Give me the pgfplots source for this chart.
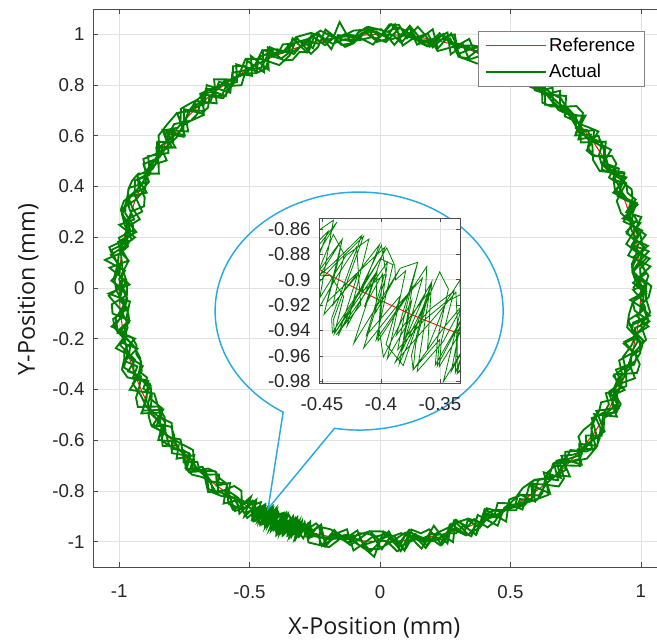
\documentclass[border=0pt]{standalone}
\usepackage{pgfplots}
\pgfplotsset{compat=1.18}
\usepackage{pgfplotstable}
\usepackage{fontspec}
\setmainfont{Liberation Sans}
\newfontfamily\labelfont{Open Sans}
\usetikzlibrary{shapes.callouts}

\definecolor{trace}{RGB}{0,128,0}
\definecolor{cmdred}{RGB}{250,20,20}
\definecolor{bubble}{RGB}{41,171,226}
\definecolor{axgray}{RGB}{75,75,75}
\definecolor{gridgray}{RGB}{226,226,226}
\definecolor{boxgray}{RGB}{130,130,130}

% measured trajectory, polar form: angle (deg), radius (mm); eight laps
\pgfplotstableread[row sep=\\]{
ang rad\\
0 0.97\\ 2 1.00\\ 4 0.97\\ 6 1.00\\ 8 1.04\\ 10 0.98\\ 12 1.01\\ 14 1.00\\ 16 0.99\\ 18 1.00\\
20 1.03\\ 22 1.04\\ 24 1.02\\ 26 1.04\\ 28 0.99\\ 30 0.98\\ 32 0.99\\ 34 1.03\\ 36 1.00\\ 38 1.01\\
40 0.98\\ 42 1.01\\ 44 1.00\\ 46 0.99\\ 48 0.99\\ 50 1.03\\ 52 0.99\\ 54 0.98\\ 56 1.02\\ 58 1.04\\
60 1.00\\ 62 0.96\\ 64 0.98\\ 66 1.03\\ 68 1.03\\ 70 1.00\\ 72 0.97\\ 74 1.04\\ 76 1.02\\ 78 0.97\\
80 1.01\\ 82 1.04\\ 84 0.99\\ 86 1.04\\ 88 1.04\\ 90 0.99\\ 92 1.02\\ 94 1.00\\ 96 0.97\\ 98 0.96\\
100 1.00\\ 102 1.03\\ 104 0.98\\ 106 0.96\\ 108 1.04\\ 110 1.02\\ 112 1.00\\ 114 1.04\\ 116 1.00\\ 118 1.00\\
120 1.00\\ 122 1.04\\ 124 0.98\\ 126 0.99\\ 128 0.96\\ 130 1.02\\ 132 1.03\\ 134 0.97\\ 136 1.01\\ 138 1.00\\
140 0.96\\ 142 1.01\\ 144 0.98\\ 146 1.03\\ 148 1.01\\ 150 0.98\\ 152 0.96\\ 154 1.03\\ 156 1.04\\ 158 1.04\\
160 1.03\\ 162 1.01\\ 164 0.98\\ 166 1.03\\ 168 0.96\\ 170 0.99\\ 172 1.00\\ 174 1.06\\ 176 0.98\\ 178 1.00\\
180 0.99\\ 182 1.00\\ 184 0.98\\ 186 0.97\\ 188 0.97\\ 190 1.02\\ 192 0.96\\ 194 1.01\\ 196 1.02\\ 198 1.04\\
200 1.03\\ 202 0.98\\ 204 0.97\\ 206 1.00\\ 208 1.03\\ 210 0.96\\ 212 1.03\\ 214 1.01\\ 216 1.00\\ 218 0.97\\
220 0.99\\ 222 0.98\\ 224 1.03\\ 226 0.98\\ 228 0.99\\ 230 0.96\\ 232 1.01\\ 234 1.01\\ 236 1.00\\
238 1.02\\ 239 0.96\\ 240 1.04\\ 241 0.99\\ 242 1.03\\ 242.9 0.96\\ 242.6 1.01\\ 243.8 1.04\\ 244 1.00\\ 244.3 0.97\\
245.6 1.01\\ 245.1 1.04\\ 246 0.97\\ 246.8 1.02\\ 247 1.03\\ 247.9 0.96\\ 248.3 0.98\\ 248.1 1.04\\ 249 1.00\\ 249.7 0.97\\
250.2 0.99\\ 250.9 1.03\\ 251 1.00\\ 252 1.03\\ 253 0.98\\ 254 0.98\\ 255 0.99\\
256 0.97\\ 258 1.02\\ 260 0.98\\ 262 1.00\\ 264 0.99\\ 266 1.00\\ 268 1.04\\ 270 1.00\\ 272 0.96\\ 274 1.03\\
276 0.97\\ 278 0.98\\ 280 1.03\\ 282 1.00\\ 284 1.03\\ 286 0.97\\ 288 0.97\\ 290 0.97\\ 292 1.02\\ 294 1.00\\
296 1.00\\ 298 0.96\\ 300 0.98\\ 302 1.03\\ 304 1.00\\ 306 0.97\\ 308 0.96\\ 310 0.98\\ 312 1.02\\ 314 0.96\\
316 0.97\\ 318 1.04\\ 320 0.99\\ 322 1.03\\ 324 1.00\\ 326 0.98\\ 328 0.97\\ 330 0.97\\ 332 0.96\\ 334 1.00\\
336 1.00\\ 338 1.00\\ 340 1.04\\ 342 1.01\\ 344 1.00\\ 346 1.00\\ 348 1.01\\ 350 0.98\\ 352 0.98\\ 354 1.04\\
356 1.00\\ 358 1.03\\
0.4 1.04\\ 2.4 1.00\\ 4.4 1.00\\ 6.4 1.04\\ 8.4 0.99\\ 10.4 0.96\\ 12.4 0.99\\ 14.4 1.03\\ 16.4 0.97\\ 18.4 1.04\\
20.4 1.01\\ 22.4 1.00\\ 24.4 1.00\\ 26.4 0.98\\ 28.4 1.03\\ 30.4 1.03\\ 32.4 0.97\\ 34.4 0.96\\ 36.4 1.04\\ 38.4 1.02\\
40.4 1.00\\ 42.4 1.01\\ 44.4 1.01\\ 46.4 1.00\\ 48.4 1.04\\ 50.4 0.99\\ 52.4 0.99\\ 54.4 1.00\\ 56.4 1.00\\ 58.4 1.01\\
60.4 0.97\\ 62.4 0.98\\ 64.4 1.03\\ 66.4 1.00\\ 68.4 1.02\\ 70.4 1.00\\ 72.4 1.01\\ 74.4 1.00\\ 76.4 1.03\\ 78.4 0.98\\
80.4 0.99\\ 82.4 0.99\\ 84.4 1.02\\ 86.4 1.03\\ 88.4 1.01\\ 90.4 1.02\\ 92.4 1.03\\ 94.4 0.99\\ 96.4 0.97\\ 98.4 1.06\\
100.4 1.00\\ 102.4 0.98\\ 104.4 1.02\\ 106.4 0.97\\ 108.4 0.98\\ 110.4 0.96\\ 112.4 0.97\\ 114.4 1.04\\ 116.4 0.96\\ 118.4 1.04\\
120.4 0.97\\ 122.4 1.00\\ 124.4 1.00\\ 126.4 1.01\\ 128.4 1.00\\ 130.4 1.03\\ 132.4 1.00\\ 134.4 1.01\\ 136.4 1.01\\ 138.4 1.04\\
140.4 0.98\\ 142.4 0.99\\ 144.4 1.00\\ 146.4 1.01\\ 148.4 0.96\\ 150.4 0.99\\ 152.4 1.00\\ 154.4 1.03\\ 156.4 1.01\\ 158.4 0.97\\
160.4 0.96\\ 162.4 1.00\\ 164.4 1.00\\ 166.4 1.00\\ 168.4 0.99\\ 170.4 0.98\\ 172.4 1.01\\ 174.4 1.01\\ 176.4 1.00\\ 178.4 1.03\\
180.4 0.98\\ 182.4 0.97\\ 184.4 0.99\\ 186.4 0.99\\ 188.4 1.04\\ 190.4 0.99\\ 192.4 1.01\\ 194.4 0.96\\ 196.4 1.02\\ 198.4 0.98\\
200.4 1.01\\ 202.4 0.96\\ 204.4 0.98\\ 206.4 1.00\\ 208.4 1.04\\ 210.4 0.97\\ 212.4 1.00\\ 214.4 0.97\\ 216.4 0.98\\ 218.4 1.02\\
220.4 0.99\\ 222.4 1.02\\ 224.4 0.98\\ 226.4 1.00\\ 228.4 1.00\\ 230.4 1.03\\ 232.4 1.02\\ 234.4 0.96\\ 236.4 0.96\\
238.4 1.01\\ 239.4 1.01\\ 240.4 0.96\\ 241.4 1.01\\ 242.4 0.99\\ 243.2 1.03\\ 243.0 0.97\\ 243.9 0.98\\ 244.4 1.02\\ 245.3 0.96\\
245.4 1.00\\ 246.1 0.98\\ 246.4 1.03\\ 247.2 0.99\\ 247.4 1.03\\ 248.5 1.04\\ 248.4 0.97\\ 249.3 1.02\\ 249.4 0.98\\ 250.6 0.96\\
250.4 1.00\\ 251.0 1.03\\ 251.4 1.02\\ 252.4 1.03\\ 253.4 0.97\\ 254.4 1.00\\ 255.4 0.98\\
256.4 0.96\\ 258.4 1.04\\ 260.4 0.98\\ 262.4 0.96\\ 264.4 1.04\\ 266.4 1.01\\ 268.4 0.98\\ 270.4 1.03\\ 272.4 0.98\\ 274.4 1.04\\
276.4 0.98\\ 278.4 1.00\\ 280.4 1.00\\ 282.4 0.96\\ 284.4 1.04\\ 286.4 0.97\\ 288.4 1.02\\ 290.4 0.97\\ 292.4 1.00\\ 294.4 0.99\\
296.4 1.01\\ 298.4 1.00\\ 300.4 0.99\\ 302.4 1.01\\ 304.4 1.02\\ 306.4 1.03\\ 308.4 1.04\\ 310.4 0.98\\ 312.4 1.00\\ 314.4 1.04\\
316.4 0.96\\ 318.4 0.99\\ 320.4 1.01\\ 322.4 0.96\\ 324.4 0.96\\ 326.4 0.97\\ 328.4 0.97\\ 330.4 0.99\\ 332.4 0.99\\ 334.4 0.96\\
336.4 1.00\\ 338.4 0.99\\ 340.4 0.96\\ 342.4 1.00\\ 344.4 1.00\\ 346.4 1.03\\ 348.4 1.03\\ 350.4 0.98\\ 352.4 0.96\\ 354.4 1.00\\
356.4 1.01\\ 358.4 1.01\\
0.8 1.00\\ 2.8 0.98\\ 4.8 0.97\\ 6.8 0.99\\ 8.8 1.03\\ 10.8 1.00\\ 12.8 0.97\\ 14.8 1.00\\ 16.8 1.01\\ 18.8 1.04\\
20.8 1.00\\ 22.8 0.97\\ 24.8 1.04\\ 26.8 1.00\\ 28.8 0.97\\ 30.8 1.00\\ 32.8 0.97\\ 34.8 0.97\\ 36.8 1.01\\ 38.8 0.96\\
40.8 1.04\\ 42.8 1.00\\ 44.8 0.99\\ 46.8 0.99\\ 48.8 0.96\\ 50.8 1.00\\ 52.8 1.02\\ 54.8 0.98\\ 56.8 1.02\\ 58.8 0.96\\
60.8 0.99\\ 62.8 1.01\\ 64.8 1.00\\ 66.8 1.02\\ 68.8 1.00\\ 70.8 1.04\\ 72.8 1.00\\ 74.8 1.04\\ 76.8 0.97\\ 78.8 1.04\\
80.8 1.00\\ 82.8 0.99\\ 84.8 0.96\\ 86.8 1.04\\ 88.8 0.98\\ 90.8 0.97\\ 92.8 1.03\\ 94.8 1.01\\ 96.8 0.97\\ 98.8 0.97\\
100.8 1.02\\ 102.8 0.99\\ 104.8 1.03\\ 106.8 0.97\\ 108.8 1.04\\ 110.8 0.99\\ 112.8 0.98\\ 114.8 1.01\\ 116.8 0.97\\ 118.8 0.97\\
120.8 1.02\\ 122.8 1.04\\ 124.8 0.99\\ 126.8 0.97\\ 128.8 0.96\\ 130.8 1.00\\ 132.8 0.97\\ 134.8 0.97\\ 136.8 1.03\\ 138.8 1.00\\
140.8 1.00\\ 142.8 1.03\\ 144.8 0.96\\ 146.8 1.02\\ 148.8 1.00\\ 150.8 1.00\\ 152.8 1.01\\ 154.8 0.98\\ 156.8 0.99\\ 158.8 1.02\\
160.8 1.04\\ 162.8 1.04\\ 164.8 1.01\\ 166.8 0.98\\ 168.8 1.02\\ 170.8 1.00\\ 172.8 1.04\\ 174.8 1.00\\ 176.8 1.01\\ 178.8 1.02\\
180.8 0.99\\ 182.8 1.00\\ 184.8 0.97\\ 186.8 1.03\\ 188.8 1.03\\ 190.8 1.00\\ 192.8 1.02\\ 194.8 1.00\\ 196.8 0.98\\ 198.8 1.02\\
200.8 0.98\\ 202.8 1.00\\ 204.8 1.03\\ 206.8 1.04\\ 208.8 0.97\\ 210.8 0.98\\ 212.8 0.98\\ 214.8 1.02\\ 216.8 1.04\\ 218.8 0.99\\
220.8 1.03\\ 222.8 0.97\\ 224.8 1.03\\ 226.8 0.99\\ 228.8 0.96\\ 230.8 0.97\\ 232.8 0.97\\ 234.8 1.04\\ 236.8 1.00\\
238.8 1.04\\ 239.8 0.97\\ 240.8 0.98\\ 241.8 1.04\\ 242.8 1.03\\ 243.5 0.97\\ 243.8 0.99\\ 244.1 1.02\\ 244.8 0.99\\ 245.6 0.96\\
245.8 1.01\\ 246.0 0.98\\ 246.8 1.02\\ 247.5 1.04\\ 247.8 0.99\\ 248.1 1.02\\ 248.8 0.99\\ 249.6 0.97\\ 249.8 1.01\\ 250.1 1.03\\
250.8 0.98\\ 251.5 0.99\\ 251.8 1.00\\ 252.8 1.00\\ 253.8 0.96\\ 254.8 1.01\\ 255.8 1.00\\
256.8 1.01\\ 258.8 1.01\\ 260.8 1.00\\ 262.8 0.99\\ 264.8 0.96\\ 266.8 1.03\\ 268.8 1.06\\ 270.8 0.96\\ 272.8 0.98\\ 274.8 0.97\\
276.8 0.99\\ 278.8 1.04\\ 280.8 1.00\\ 282.8 1.04\\ 284.8 1.00\\ 286.8 1.01\\ 288.8 0.99\\ 290.8 1.04\\ 292.8 1.00\\ 294.8 0.98\\
296.8 0.98\\ 298.8 1.00\\ 300.8 1.02\\ 302.8 0.99\\ 304.8 1.02\\ 306.8 0.97\\ 308.8 1.04\\ 310.8 0.96\\ 312.8 1.02\\ 314.8 0.96\\
316.8 0.98\\ 318.8 0.97\\ 320.8 1.02\\ 322.8 1.04\\ 324.8 1.03\\ 326.8 1.01\\ 328.8 0.96\\ 330.8 1.04\\ 332.8 1.00\\ 334.8 0.99\\
336.8 1.02\\ 338.8 0.96\\ 340.8 0.98\\ 342.8 1.02\\ 344.8 1.02\\ 346.8 0.96\\ 348.8 1.00\\ 350.8 0.99\\ 352.8 1.04\\ 354.8 0.98\\
356.8 0.97\\ 358.8 1.02\\
1.2 0.97\\ 3.2 1.02\\ 5.2 1.01\\ 7.2 0.98\\ 9.2 1.04\\ 11.2 0.99\\ 13.2 0.97\\ 15.2 1.02\\ 17.2 1.01\\ 19.2 1.02\\
21.2 1.00\\ 23.2 0.98\\ 25.2 0.99\\ 27.2 1.03\\ 29.2 1.00\\ 31.2 1.01\\ 33.2 1.02\\ 35.2 1.00\\ 37.2 1.03\\ 39.2 0.97\\
41.2 1.03\\ 43.2 1.00\\ 45.2 1.01\\ 47.2 1.02\\ 49.2 1.01\\ 51.2 1.01\\ 53.2 1.04\\ 55.2 1.00\\ 57.2 0.96\\ 59.2 1.00\\
61.2 0.97\\ 63.2 0.99\\ 65.2 0.98\\ 67.2 0.96\\ 69.2 0.96\\ 71.2 0.96\\ 73.2 1.00\\ 75.2 1.01\\ 77.2 1.03\\ 79.2 0.97\\
81.2 0.98\\ 83.2 1.02\\ 85.2 0.97\\ 87.2 1.00\\ 89.2 1.00\\ 91.2 0.98\\ 93.2 1.01\\ 95.2 0.99\\ 97.2 1.00\\ 99.2 1.01\\
101.2 0.96\\ 103.2 1.03\\ 105.2 0.98\\ 107.2 1.02\\ 109.2 1.02\\ 111.2 1.03\\ 113.2 1.00\\ 115.2 1.02\\ 117.2 1.02\\ 119.2 0.97\\
121.2 0.99\\ 123.2 1.00\\ 125.2 0.98\\ 127.2 1.02\\ 129.2 1.00\\ 131.2 1.02\\ 133.2 1.02\\ 135.2 1.03\\ 137.2 1.04\\ 139.2 1.01\\
141.2 0.96\\ 143.2 1.04\\ 145.2 0.97\\ 147.2 1.02\\ 149.2 0.99\\ 151.2 1.01\\ 153.2 0.99\\ 155.2 1.02\\ 157.2 0.97\\ 159.2 1.02\\
161.2 1.03\\ 163.2 1.02\\ 165.2 0.98\\ 167.2 0.97\\ 169.2 1.00\\ 171.2 1.05\\ 173.2 1.03\\ 175.2 1.00\\ 177.2 1.00\\ 179.2 0.96\\
181.2 1.04\\ 183.2 0.96\\ 185.2 0.97\\ 187.2 0.98\\ 189.2 0.98\\ 191.2 1.00\\ 193.2 1.04\\ 195.2 1.00\\ 197.2 0.99\\ 199.2 1.00\\
201.2 0.99\\ 203.2 0.96\\ 205.2 0.97\\ 207.2 1.00\\ 209.2 1.01\\ 211.2 1.00\\ 213.2 1.00\\ 215.2 1.04\\ 217.2 1.00\\ 219.2 1.03\\
221.2 1.00\\ 223.2 0.99\\ 225.2 1.02\\ 227.2 0.97\\ 229.2 0.96\\ 231.2 1.00\\ 233.2 0.96\\ 235.2 1.02\\ 237.2 1.04\\
239.2 0.98\\ 240.2 0.98\\ 241.2 1.02\\ 242.2 1.04\\ 243.2 1.01\\ 243.5 0.97\\ 244.2 1.03\\ 244.9 0.99\\ 245.2 1.04\\ 245.4 0.96\\
246.2 0.98\\ 246.5 1.04\\ 247.2 1.00\\ 247.9 0.97\\ 248.2 1.03\\ 248.5 0.98\\ 249.2 1.04\\ 249.9 1.01\\ 250.2 0.98\\ 250.5 1.04\\
251.2 0.99\\ 251.9 0.97\\ 252.2 1.00\\ 253.2 1.00\\ 254.2 0.98\\ 255.2 0.96\\ 256.2 0.97\\
257.2 1.04\\ 259.2 1.04\\ 261.2 1.00\\ 263.2 1.01\\ 265.2 0.97\\ 267.2 0.97\\ 269.2 0.98\\ 271.2 0.97\\ 273.2 0.98\\ 275.2 1.04\\
277.2 0.96\\ 279.2 0.98\\ 281.2 0.97\\ 283.2 1.04\\ 285.2 1.01\\ 287.2 0.96\\ 289.2 1.03\\ 291.2 1.01\\ 293.2 1.00\\ 295.2 0.96\\
297.2 0.99\\ 299.2 1.00\\ 301.2 1.00\\ 303.2 0.97\\ 305.2 1.03\\ 307.2 0.97\\ 309.2 1.00\\ 311.2 1.04\\ 313.2 1.03\\ 315.2 0.97\\
317.2 0.99\\ 319.2 1.01\\ 321.2 0.98\\ 323.2 1.04\\ 325.2 1.02\\ 327.2 1.02\\ 329.2 1.00\\ 331.2 1.02\\ 333.2 1.02\\ 335.2 0.97\\
337.2 0.99\\ 339.2 0.96\\ 341.2 1.04\\ 343.2 1.04\\ 345.2 1.01\\ 347.2 0.96\\ 349.2 1.00\\ 351.2 0.97\\ 353.2 1.03\\ 355.2 1.02\\
357.2 0.96\\ 359.2 1.02\\
1.6 0.98\\ 3.6 0.97\\ 5.6 0.97\\ 7.6 0.99\\ 9.6 1.00\\ 11.6 1.04\\ 13.6 1.01\\ 15.6 1.04\\ 17.6 0.99\\ 19.6 1.04\\
21.6 1.02\\ 23.6 1.03\\ 25.6 0.99\\ 27.6 1.02\\ 29.6 0.98\\ 31.6 1.04\\ 33.6 1.02\\ 35.6 1.03\\ 37.6 0.96\\ 39.6 1.00\\
41.6 1.04\\ 43.6 1.04\\ 45.6 1.00\\ 47.6 0.97\\ 49.6 0.96\\ 51.6 1.00\\ 53.6 1.04\\ 55.6 1.02\\ 57.6 0.99\\ 59.6 0.97\\
61.6 1.02\\ 63.6 0.99\\ 65.6 0.98\\ 67.6 1.03\\ 69.6 0.97\\ 71.6 1.01\\ 73.6 0.96\\ 75.6 1.04\\ 77.6 1.01\\ 79.6 0.99\\
81.6 0.97\\ 83.6 1.03\\ 85.6 1.00\\ 87.6 1.04\\ 89.6 1.00\\ 91.6 0.96\\ 93.6 0.98\\ 95.6 1.00\\ 97.6 1.01\\ 99.6 1.00\\
101.6 1.04\\ 103.6 0.99\\ 105.6 1.01\\ 107.6 1.00\\ 109.6 0.99\\ 111.6 1.00\\ 113.6 1.01\\ 115.6 1.04\\ 117.6 0.96\\ 119.6 1.03\\
121.6 0.99\\ 123.6 0.96\\ 125.6 0.98\\ 127.6 1.01\\ 129.6 1.00\\ 131.6 0.98\\ 133.6 1.00\\ 135.6 0.98\\ 137.6 0.98\\ 139.6 0.99\\
141.6 0.96\\ 143.6 1.03\\ 145.6 0.98\\ 147.6 1.00\\ 149.6 0.99\\ 151.6 0.99\\ 153.6 1.00\\ 155.6 1.00\\ 157.6 1.01\\ 159.6 1.03\\
161.6 1.00\\ 163.6 0.96\\ 165.6 0.99\\ 167.6 1.00\\ 169.6 0.98\\ 171.6 1.01\\ 173.6 0.97\\ 175.6 1.04\\ 177.6 0.99\\ 179.6 0.97\\
181.6 0.97\\ 183.6 1.03\\ 185.6 1.03\\ 187.6 0.97\\ 189.6 1.02\\ 191.6 0.97\\ 193.6 0.96\\ 195.6 0.97\\ 197.6 0.96\\ 199.6 0.98\\
201.6 0.96\\ 203.6 0.99\\ 205.6 0.97\\ 207.6 0.99\\ 209.6 1.02\\ 211.6 1.03\\ 213.6 0.99\\ 215.6 1.03\\ 217.6 1.02\\ 219.6 1.00\\
221.6 0.98\\ 223.6 1.03\\ 225.6 1.03\\ 227.6 1.01\\ 229.6 1.00\\ 231.6 1.03\\ 233.6 1.02\\ 235.6 1.00\\ 237.6 0.99\\
239.6 0.99\\ 240.6 0.98\\ 241.6 0.96\\ 242.6 1.03\\ 243.6 0.99\\ 244.3 0.96\\ 244.6 1.03\\ 244.9 1.04\\ 245.6 0.97\\ 246.3 0.97\\
246.6 1.00\\ 246.9 1.03\\ 247.6 0.98\\ 248.3 1.04\\ 248.6 0.96\\ 249.3 0.97\\ 249.6 1.01\\ 249.9 1.03\\ 250.6 0.97\\ 251.3 0.98\\
251.6 1.02\\ 251.9 1.04\\ 252.6 0.97\\ 253.6 1.02\\ 254.6 1.02\\ 255.6 1.01\\ 256.6 1.01\\
257.6 1.04\\ 259.6 0.97\\ 261.6 1.00\\ 263.6 1.02\\ 265.6 0.99\\ 267.6 0.96\\ 269.6 0.99\\ 271.6 1.00\\ 273.6 1.04\\ 275.6 1.03\\
277.6 0.98\\ 279.6 1.00\\ 281.6 0.99\\ 283.6 1.00\\ 285.6 1.04\\ 287.6 0.96\\ 289.6 1.00\\ 291.6 0.98\\ 293.6 1.03\\ 295.6 1.02\\
297.6 1.00\\ 299.6 1.00\\ 301.6 1.00\\ 303.6 1.01\\ 305.6 1.03\\ 307.6 1.02\\ 309.6 0.99\\ 311.6 0.97\\ 313.6 0.97\\ 315.6 1.00\\
317.6 1.04\\ 319.6 1.00\\ 321.6 1.01\\ 323.6 0.98\\ 325.6 1.03\\ 327.6 1.01\\ 329.6 0.99\\ 331.6 1.03\\ 333.6 1.03\\ 335.6 0.98\\
337.6 0.99\\ 339.6 1.00\\ 341.6 0.99\\ 343.6 1.02\\ 345.6 1.03\\ 347.6 1.02\\ 349.6 1.00\\ 351.6 1.04\\ 353.6 0.99\\ 355.6 1.02\\
357.6 1.00\\ 359.6 0.97\\
0.7 1.02\\ 3.7 0.97\\ 6.7 1.03\\ 9.7 0.98\\ 12.7 1.03\\ 15.7 0.97\\ 18.7 1.03\\ 21.7 0.98\\ 24.7 1.03\\ 27.7 1.00\\
30.7 1.00\\ 33.7 1.04\\ 36.7 0.96\\ 39.7 1.00\\ 42.7 1.00\\ 45.7 0.98\\ 48.7 0.99\\ 51.7 1.00\\ 54.7 0.99\\ 57.7 1.01\\
60.7 0.96\\ 63.7 0.98\\ 66.7 1.03\\ 69.7 1.02\\ 72.7 1.00\\ 75.7 1.02\\ 78.7 0.97\\ 81.7 0.99\\ 84.7 1.00\\ 87.7 0.98\\
90.7 1.01\\ 93.7 1.01\\ 96.7 0.98\\ 99.7 1.00\\ 102.7 1.04\\ 105.7 1.02\\ 108.7 1.02\\ 111.7 1.00\\ 114.7 1.02\\ 117.7 0.98\\
120.7 1.00\\ 123.7 1.02\\ 126.7 0.96\\ 129.7 1.04\\ 132.7 0.99\\ 135.7 1.01\\ 138.7 1.04\\ 141.7 1.04\\ 144.7 1.04\\ 147.7 1.00\\
150.7 1.04\\ 153.7 1.00\\ 156.7 0.98\\ 159.7 1.00\\ 162.7 1.04\\ 165.7 1.01\\ 168.7 0.97\\ 171.7 1.04\\ 174.7 1.01\\ 177.7 1.02\\
180.7 1.01\\ 183.7 0.98\\ 186.7 1.02\\ 189.7 1.02\\ 192.7 0.98\\ 195.7 1.00\\ 198.7 0.96\\ 201.7 1.02\\ 204.7 1.01\\ 207.7 1.01\\
210.7 0.99\\ 213.7 0.96\\ 216.7 0.99\\ 219.7 1.00\\ 222.7 0.99\\ 225.7 1.00\\ 228.7 1.00\\ 231.7 1.02\\ 234.7 1.00\\ 237.7 1.04\\
239.7 1.00\\ 240.7 1.00\\ 241.7 1.02\\ 242.7 0.97\\ 243.0 1.03\\ 243.7 0.99\\ 244.4 0.96\\ 244.7 1.03\\ 245.0 1.04\\ 245.7 0.98\\
246.4 1.01\\ 246.7 0.97\\ 247.4 0.96\\ 247.7 1.02\\ 248.4 0.98\\ 248.7 1.03\\ 249.0 1.04\\ 249.7 1.00\\ 250.4 0.97\\ 250.7 0.98\\
251.0 1.03\\ 251.7 1.00\\ 252.7 0.97\\ 253.7 1.01\\
256.7 1.01\\ 259.7 1.00\\ 262.7 0.98\\ 265.7 1.02\\ 268.7 1.00\\ 271.7 0.98\\ 274.7 1.02\\ 277.7 1.00\\ 280.7 1.01\\ 283.7 1.01\\
286.7 0.99\\ 289.7 1.04\\ 292.7 0.97\\ 295.7 1.04\\ 298.7 0.99\\ 301.7 0.98\\ 304.7 0.96\\ 307.7 0.96\\ 310.7 0.99\\ 313.7 0.96\\
316.7 1.00\\ 319.7 1.04\\ 322.7 1.04\\ 325.7 0.98\\ 328.7 0.97\\ 331.7 1.03\\ 334.7 0.97\\ 337.7 1.02\\ 340.7 1.00\\ 343.7 0.97\\
346.7 0.99\\ 349.7 1.00\\ 352.7 1.04\\ 355.7 1.01\\ 358.7 1.01\\
1.7 0.98\\ 4.7 1.04\\ 7.7 0.96\\ 10.7 1.00\\ 13.7 0.99\\ 16.7 1.00\\ 19.7 1.02\\ 22.7 0.98\\ 25.7 1.04\\ 28.7 0.96\\
31.7 0.96\\ 34.7 0.99\\ 37.7 0.99\\ 40.7 1.00\\ 43.7 0.98\\ 46.7 1.04\\ 49.7 1.00\\ 52.7 0.98\\ 55.7 1.01\\ 58.7 0.96\\
61.7 1.00\\ 64.7 1.04\\ 67.7 1.00\\ 70.7 1.01\\ 73.7 0.99\\ 76.7 0.96\\ 79.7 1.02\\ 82.7 0.99\\ 85.7 1.03\\ 88.7 0.97\\
91.7 0.99\\ 94.7 0.98\\ 97.7 0.99\\ 100.7 0.98\\ 103.7 1.03\\ 106.7 1.01\\ 109.7 0.98\\ 112.7 1.02\\ 115.7 1.04\\ 118.7 1.00\\
121.7 0.99\\ 124.7 1.00\\ 127.7 1.04\\ 130.7 0.96\\ 133.7 1.02\\ 136.7 1.01\\ 139.7 0.99\\ 142.7 0.98\\ 145.7 0.99\\ 148.7 0.99\\
151.7 1.03\\ 154.7 0.98\\ 157.7 1.04\\ 160.7 1.03\\ 163.7 1.03\\ 166.7 0.96\\ 169.7 1.02\\ 172.7 1.00\\ 175.7 0.99\\ 178.7 0.97\\
181.7 1.04\\ 184.7 1.00\\ 187.7 0.98\\ 190.7 1.00\\ 193.7 0.97\\ 196.7 0.96\\ 199.7 0.97\\ 202.7 1.04\\ 205.7 0.96\\ 208.7 0.97\\
211.7 0.97\\ 214.7 1.00\\ 217.7 1.02\\ 220.7 0.99\\ 223.7 1.03\\ 226.7 0.99\\ 229.7 1.00\\ 232.7 0.97\\ 235.7 1.03\\ 238.7 1.02\\
240.7 1.04\\ 241.7 0.99\\ 242.7 0.96\\ 243.7 1.02\\ 244.0 0.98\\ 244.7 0.96\\ 245.4 1.03\\ 245.7 0.98\\ 246.0 1.04\\ 246.7 0.97\\
247.4 0.96\\ 247.7 1.00\\ 248.0 1.03\\ 248.7 1.00\\ 249.4 0.98\\ 249.7 0.96\\ 250.4 0.99\\ 250.7 1.03\\ 251.4 0.97\\ 251.7 1.04\\
252.0 1.02\\ 252.7 0.97\\ 253.7 1.00\\ 254.7 1.04\\
257.7 1.04\\ 260.7 0.99\\ 263.7 1.00\\ 266.7 1.03\\ 269.7 1.03\\ 272.7 1.00\\ 275.7 0.97\\ 278.7 1.01\\ 281.7 1.02\\ 284.7 1.00\\
287.7 0.96\\ 290.7 1.04\\ 293.7 0.98\\ 296.7 1.00\\ 299.7 1.00\\ 302.7 1.02\\ 305.7 1.01\\ 308.7 0.97\\ 311.7 1.00\\ 314.7 1.01\\
317.7 0.96\\ 320.7 1.01\\ 323.7 1.01\\ 326.7 1.03\\ 329.7 0.96\\ 332.7 1.03\\ 335.7 0.98\\ 338.7 0.98\\ 341.7 1.01\\ 344.7 1.00\\
347.7 1.03\\ 350.7 0.96\\ 353.7 0.96\\ 356.7 0.97\\ 359.7 1.01\\
2.7 1.03\\ 5.7 1.00\\ 8.7 1.02\\ 11.7 1.02\\ 14.7 1.00\\ 17.7 0.97\\ 20.7 0.97\\ 23.7 1.03\\ 26.7 1.00\\ 29.7 0.99\\
32.7 1.02\\ 35.7 1.00\\ 38.7 0.98\\ 41.7 0.99\\ 44.7 1.00\\ 47.7 1.00\\ 50.7 1.00\\ 53.7 1.00\\ 56.7 0.98\\ 59.7 1.00\\
62.7 0.99\\ 65.7 1.02\\ 68.7 0.97\\ 71.7 0.96\\ 74.7 1.02\\ 77.7 1.00\\ 80.7 0.99\\ 83.7 1.04\\ 86.7 0.96\\ 89.7 1.02\\
92.7 1.02\\ 95.7 1.02\\ 98.7 1.00\\ 101.7 1.00\\ 104.7 1.04\\ 107.7 1.04\\ 110.7 0.98\\ 113.7 0.96\\ 116.7 1.01\\ 119.7 1.04\\
122.7 1.00\\ 125.7 1.00\\ 128.7 0.97\\ 131.7 1.02\\ 134.7 0.96\\ 137.7 0.98\\ 140.7 1.02\\ 143.7 1.01\\ 146.7 0.97\\ 149.7 1.03\\
152.7 0.99\\ 155.7 1.03\\ 158.7 1.01\\ 161.7 0.96\\ 164.7 1.01\\ 167.7 0.98\\ 170.7 1.01\\ 173.7 0.97\\ 176.7 0.99\\ 179.7 0.99\\
182.7 0.97\\ 185.7 0.99\\ 188.7 1.03\\ 191.7 1.00\\ 194.7 1.00\\ 197.7 1.03\\ 200.7 0.99\\ 203.7 0.96\\ 206.7 0.98\\ 209.7 0.96\\
212.7 1.02\\ 215.7 1.00\\ 218.7 0.98\\ 221.7 0.96\\ 224.7 1.00\\ 227.7 1.00\\ 230.7 1.04\\ 233.7 0.99\\ 236.7 0.99\\ 239.7 1.03\\
241.7 0.98\\ 242.7 1.01\\ 243.7 1.00\\ 244.7 1.01\\ 245.0 1.04\\ 245.7 0.96\\ 246.4 0.97\\ 246.7 0.98\\ 247.0 0.97\\ 247.7 1.04\\
248.4 0.97\\ 248.7 1.02\\ 249.0 1.04\\ 249.7 1.01\\ 250.0 1.03\\ 250.7 0.96\\ 251.4 0.98\\ 251.7 1.01\\ 252.0 0.97\\ 252.7 1.02\\
253.4 1.03\\ 253.7 0.99\\ 254.7 1.02\\ 255.7 0.97\\
258.7 0.97\\ 261.7 0.99\\ 264.7 0.98\\ 267.7 0.96\\ 270.7 0.96\\ 273.7 1.02\\ 276.7 0.96\\ 279.7 1.04\\ 282.7 0.99\\ 285.7 0.98\\
288.7 1.03\\ 291.7 1.02\\ 294.7 0.96\\ 297.7 1.04\\ 300.7 0.97\\ 303.7 0.98\\ 306.7 1.02\\ 309.7 1.00\\ 312.7 1.00\\ 315.7 0.99\\
318.7 1.02\\ 321.7 1.00\\ 324.7 1.02\\ 327.7 0.96\\ 330.7 1.00\\ 333.7 1.02\\ 336.7 0.98\\ 339.7 0.99\\ 342.7 0.96\\ 345.7 1.01\\
348.7 1.04\\ 351.7 1.01\\ 354.7 1.04\\ 357.7 1.02\\ 360.7 1.02\\
}\actual

% commanded circle of radius 1 mm, polar form
\pgfplotstableread[row sep=\\]{
ang rad\\
0 1\\ 5 1\\ 10 1\\ 15 1\\ 20 1\\ 25 1\\ 30 1\\ 35 1\\ 40 1\\ 45 1\\ 50 1\\ 55 1\\
60 1\\ 65 1\\ 70 1\\ 75 1\\ 80 1\\ 85 1\\ 90 1\\ 95 1\\ 100 1\\ 105 1\\ 110 1\\ 115 1\\
120 1\\ 125 1\\ 130 1\\ 135 1\\ 140 1\\ 145 1\\ 150 1\\ 155 1\\ 160 1\\ 165 1\\ 170 1\\ 175 1\\
180 1\\ 185 1\\ 190 1\\ 195 1\\ 200 1\\ 205 1\\ 210 1\\ 215 1\\ 220 1\\ 225 1\\ 230 1\\ 235 1\\
240 1\\ 242 1\\ 244 1\\ 246 1\\ 248 1\\ 250 1\\ 252 1\\ 255 1\\ 260 1\\ 265 1\\ 270 1\\ 275 1\\
280 1\\ 285 1\\ 290 1\\ 295 1\\ 300 1\\ 305 1\\ 310 1\\ 315 1\\ 320 1\\ 325 1\\ 330 1\\ 335 1\\
340 1\\ 345 1\\ 350 1\\ 355 1\\ 360 1\\
}\reference

\pgfplotsset{
  matlab/.style={
    scale only axis,
    axis line style={axgray, line width=0.6pt},
    tick style={axgray, line width=0.6pt},
    tick align=inside,
    major tick length=4pt,
    grid=major,
    major grid style={gridgray, line width=0.5pt},
    tick label style={font=\fontsize{14}{16}\selectfont, text=black!85},
    xticklabel style={yshift=-7pt},
    yticklabel style={xshift=-2.8pt},
    /pgf/number format/assume math mode=true,
    /pgf/number format/fixed,
  },
}

\begin{document}
\begin{tikzpicture}
\path[use as bounding box] (-69.75pt,-55.5pt) rectangle (423pt,425.25pt);

\begin{axis}[
  matlab,
  at={(0pt,0pt)}, anchor=south west,
  width=430.5pt, height=418.5pt,
  xmin=-1.1, xmax=1.1, ymin=-1.1, ymax=1.1,
  xtick={-1,-0.5,0,0.5,1},
  ytick={-1,-0.8,-0.6,-0.4,-0.2,0,0.2,0.4,0.6,0.8,1},
  xticklabel style={yshift=-3pt},
  xlabel={X-Position (mm)},
  ylabel={Y-Position (mm)},
  xlabel style={font=\labelfont\fontsize{17.5}{20}\selectfont, text=black!90,
    at={(axis description cs:0.49,-0.109)}, anchor=center},
  ylabel style={font=\labelfont\fontsize{17.5}{20}\selectfont, text=black!90,
    at={(axis description cs:-0.113,0.497)}, anchor=center},
  legend style={at={(axis description cs:0.9617,0.9606)}, anchor=north east,
    draw=boxgray, fill=white, line width=0.6pt,
    font=\fontsize{14}{16}\selectfont,
    cells={anchor=west}, inner xsep=5pt, inner ysep=3pt, row sep=4pt},
  legend image code/.code={\draw[#1] (0pt,0pt) -- (45pt,0pt);},
]
\addplot[draw=cmdred, line width=0.8pt, data cs=polar, forget plot]
  table[x=ang, y=rad] {\reference};
\addplot[draw=trace, line width=1.4pt, data cs=polar, forget plot]
  table[x=ang, y=rad] {\actual};
\addlegendimage{draw=cmdred, color=cmdred, line width=1pt}
\addlegendentry{Reference}
\addlegendimage{draw=trace, color=trace, line width=0.9pt}
\addlegendentry{Actual}
\coordinate (tip) at (axis cs:-0.429,-0.870);
\coordinate (bub) at (axis cs:-0.080,-0.091);
\end{axis}

% callout bubble pointing at the magnified stretch of the path
\node[ellipse callout, draw=bubble, line width=1.1pt, inner sep=0pt,
  minimum width=216pt, minimum height=178.5pt,
  callout absolute pointer={(tip)}, callout pointer arc=22] at (bub) {};

% magnified view
\begin{axis}[
  matlab,
  at={(169.5pt,138pt)}, anchor=south west,
  width=105.75pt, height=123.75pt,
  xmin=-0.4525, xmax=-0.333, ymin=-0.9813, ymax=-0.8513,
  xtick={-0.45,-0.4,-0.35},
  ytick={-0.98,-0.96,-0.94,-0.92,-0.9,-0.88,-0.86},
  major tick length=3pt,
  axis background/.style={fill=white},
]
\addplot[draw=cmdred, line width=0.7pt, data cs=polar] table[x=ang, y=rad] {\reference};
\addplot[draw=trace, line width=0.6pt, data cs=polar] table[x=ang, y=rad] {\actual};
\end{axis}
\end{tikzpicture}
\end{document}
